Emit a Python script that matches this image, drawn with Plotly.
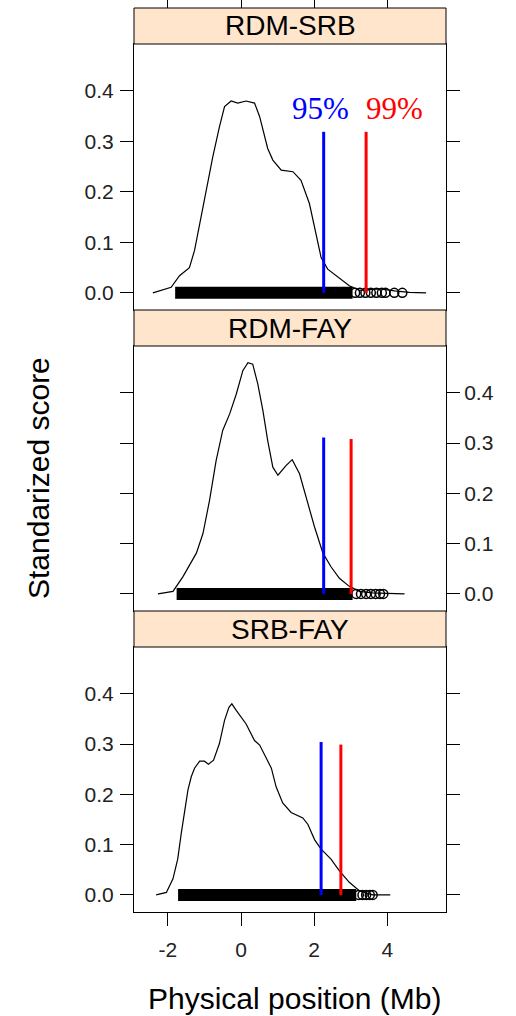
import plotly.graph_objects as go

# ---- data -------------------------------------------------------------
panels = ["RDM-SRB", "RDM-FAY", "SRB-FAY"]

# kernel density curves (x in Mb, standardized score)
dens1_x = [-2.41, -1.91, -1.68, -1.41, -1.27, -1.13, -0.95, -0.77, -0.59, -0.45, -0.27, -0.09,
           0.14, 0.37, 0.51, 0.73, 0.87, 1.10, 1.42, 1.64, 1.87, 2.05, 2.19, 2.37, 2.69, 2.96,
           3.24, 3.50, 3.80, 4.20, 4.60, 5.06]
dens1_y = [0.0, 0.011, 0.034, 0.050, 0.084, 0.137, 0.203, 0.270, 0.329, 0.369, 0.380, 0.376,
           0.380, 0.376, 0.349, 0.286, 0.263, 0.243, 0.240, 0.223, 0.177, 0.117, 0.070, 0.047,
           0.030, 0.014, 0.005, 0.006, 0.008, 0.004, 0.001, 0.0]

dens2_x = [-2.27, -1.86, -1.59, -1.22, -1.04, -0.86, -0.68, -0.50, -0.31, -0.13, 0.05, 0.19,
           0.32, 0.46, 0.60, 0.73, 0.87, 1.01, 1.23, 1.40, 1.60, 1.78, 2.01, 2.24, 2.46, 2.69,
           2.96, 3.24, 3.60, 4.00, 4.47]
dens2_y = [0.0, 0.005, 0.034, 0.081, 0.120, 0.186, 0.265, 0.325, 0.358, 0.397, 0.444, 0.460,
           0.457, 0.417, 0.364, 0.305, 0.252, 0.236, 0.255, 0.267, 0.239, 0.193, 0.133, 0.081,
           0.054, 0.031, 0.015, 0.005, 0.002, 0.001, 0.0]

dens3_x = [-2.32, -2.04, -1.86, -1.73, -1.63, -1.54, -1.45, -1.36, -1.27, -1.13, -1.00, -0.89,
           -0.75, -0.59, -0.45, -0.33, -0.25, -0.13, 0.14, 0.37, 0.51, 0.83, 0.96, 1.14, 1.37,
           1.69, 1.83, 2.01, 2.19, 2.46, 2.69, 2.96, 3.24, 3.60, 4.08]
dens3_y = [0.0, 0.005, 0.032, 0.071, 0.124, 0.163, 0.209, 0.235, 0.252, 0.266, 0.266, 0.260,
           0.268, 0.301, 0.347, 0.373, 0.380, 0.367, 0.340, 0.307, 0.298, 0.252, 0.215, 0.183,
           0.164, 0.153, 0.140, 0.110, 0.091, 0.071, 0.048, 0.025, 0.008, 0.0, 0.0]

# extent of the dense run of observations plotted along the baseline
band_x = [[-1.80, 3.05], [-1.76, 3.05], [-1.72, 3.15]]
# sparse observations in the upper tail
tail_x = [
    [3.12, 3.25, 3.40, 3.55, 3.70, 3.85, 3.95, 4.19, 4.41],
    [3.15, 3.28, 3.42, 3.55, 3.68, 3.80, 3.89],
    [3.22, 3.32, 3.42, 3.52, 3.60],
]

# significance thresholds: 95% and 99% quantiles, with line heights
q95 = [2.26, 2.26, 2.19]
q99 = [3.42, 3.01, 2.73]
q95_top = [0.319, 0.311, 0.304]
q99_top = [0.319, 0.308, 0.299]

x_ticks = [-2, 0, 2, 4]
x_tick_text = ["-2", "0", "2", "4"]
y_ticks = [0.0, 0.1, 0.2, 0.3, 0.4]
y_tick_text = ["0.0", "0.1", "0.2", "0.3", "0.4"]

# ---- layout geometry (pixels in a 516 x 1016 page) -------------------
W, H = 516, 1016
left_px, right_px = 134, 446
panel_px = [(44, 310), (346, 611), (647, 912)]
strip_px = [(8, 44), (310, 346), (611, 647)]

def fx(px):
    return px / W

def fy(py):
    return 1 - py / H

x_range = [-2.925, 5.604]
y_range = [-0.034, 0.493]

SANS = "Liberation Sans, Arial, sans-serif"
SERIF = "Liberation Serif, Times New Roman, serif"

fig = go.Figure()

dens = [(dens1_x, dens1_y), (dens2_x, dens2_y), (dens3_x, dens3_y)]
for i in range(3):
    xa = "x" if i == 0 else f"x{i + 1}"
    ya = "y" if i == 0 else f"y{i + 1}"
    dx, dy = dens[i]
    # baseline observations: dense run + tail circles
    fig.add_trace(go.Scatter(x=band_x[i], y=[0, 0], mode="lines",
                             line=dict(color="black", width=12),
                             xaxis=xa, yaxis=ya, showlegend=False, hoverinfo="skip"))
    fig.add_trace(go.Scatter(x=tail_x[i], y=[0] * len(tail_x[i]), mode="markers",
                             marker=dict(symbol="circle-open", size=9, color="black",
                                         line=dict(width=1.5)),
                             xaxis=xa, yaxis=ya, showlegend=False, hoverinfo="skip"))
    # density curve
    fig.add_trace(go.Scatter(x=dx, y=dy, mode="lines",
                             line=dict(color="black", width=1.2),
                             xaxis=xa, yaxis=ya, showlegend=False, hoverinfo="skip"))
    # quantile thresholds
    fig.add_trace(go.Scatter(x=[q95[i], q95[i]], y=[0, q95_top[i]], mode="lines",
                             line=dict(color="#0000FF", width=3),
                             xaxis=xa, yaxis=ya, showlegend=False, hoverinfo="skip"))
    fig.add_trace(go.Scatter(x=[q99[i], q99[i]], y=[0, q99_top[i]], mode="lines",
                             line=dict(color="#FF0000", width=3),
                             xaxis=xa, yaxis=ya, showlegend=False, hoverinfo="skip"))

# invisible trace carrying the top tick axis
fig.add_trace(go.Scatter(x=[x_ticks[0]], y=[0], mode="markers", marker=dict(opacity=0),
                         xaxis="x4", yaxis="y", showlegend=False, hoverinfo="skip"))

tick_font = dict(family=SANS, size=21, color="#222")
layout = dict(
    width=W, height=H, autosize=False,
    margin=dict(l=0, r=0, t=0, b=0, autoexpand=False),
    paper_bgcolor="white", plot_bgcolor="white",
)

for i in range(3):
    top, bot = panel_px[i]
    xname = "xaxis" if i == 0 else f"xaxis{i + 1}"
    yname = "yaxis" if i == 0 else f"yaxis{i + 1}"
    ya = "y" if i == 0 else f"y{i + 1}"
    xa = "x" if i == 0 else f"x{i + 1}"
    layout[xname] = dict(
        domain=[fx(left_px), fx(right_px)], anchor=ya, range=x_range,
        showgrid=False, zeroline=False, showline=True, linecolor="black",
        linewidth=1, mirror=True, automargin=False,
        ticks="outside" if i == 2 else "", ticklen=13, tickcolor="black",
        tickvals=x_ticks, ticktext=x_tick_text, showticklabels=(i == 2),
        tickfont=tick_font, ticklabelstandoff=6,
    )
    layout[yname] = dict(
        domain=[fy(bot), fy(top)], anchor=xa, range=y_range,
        showgrid=False, zeroline=False, showline=True, linecolor="black",
        linewidth=1, mirror="ticks", ticks="outside", ticklen=13, tickcolor="black",
        tickvals=y_ticks, ticktext=y_tick_text, tickfont=tick_font,
        side="right" if i == 1 else "left", automargin=False,
        ticklabelstandoff=2 if i != 1 else 0,
    )

layout["xaxis4"] = dict(
    overlaying="x", matches="x", anchor="free", position=fy(strip_px[0][0]),
    side="top", range=x_range, showgrid=False, zeroline=False, showline=False,
    ticks="outside", ticklen=8, tickcolor="black", tickvals=x_ticks,
    showticklabels=False, automargin=False,
)

shapes = []
annotations = []
for i, (t, b) in enumerate(strip_px):
    shapes.append(dict(type="rect", xref="paper", yref="paper",
                       x0=fx(left_px), x1=fx(right_px), y0=fy(b), y1=fy(t),
                       fillcolor="#FFE5CC", line=dict(color="black", width=1),
                       layer="above"))
    annotations.append(dict(xref="paper", yref="paper", x=fx((left_px + right_px) / 2),
                            y=fy((t + b) / 2), text=panels[i], showarrow=False,
                            xanchor="center", yanchor="middle",
                            font=dict(family=SANS, size=28, color="black")))

# quantile labels in the first panel
annotations.append(dict(xref="x", yref="y", x=2.18, y=0.365, text="95%", showarrow=False,
                        xanchor="center", yanchor="middle",
                        font=dict(family=SERIF, size=31, color="#0000FF")))
annotations.append(dict(xref="x", yref="y", x=4.20, y=0.365, text="99%", showarrow=False,
                        xanchor="center", yanchor="middle",
                        font=dict(family=SERIF, size=31, color="#FF0000")))

# axis titles
annotations.append(dict(xref="paper", yref="paper", x=fx(294), y=fy(998),
                        text="Physical position (Mb)", showarrow=False,
                        xanchor="center", yanchor="middle",
                        font=dict(family=SANS, size=30, color="black")))
annotations.append(dict(xref="paper", yref="paper", x=fx(38), y=fy(478),
                        text="Standarized score", showarrow=False, textangle=-90,
                        xanchor="center", yanchor="middle",
                        font=dict(family=SANS, size=30, color="black")))

layout["shapes"] = shapes
layout["annotations"] = annotations
fig.update_layout(**layout)

fig.write_html("out.html")
